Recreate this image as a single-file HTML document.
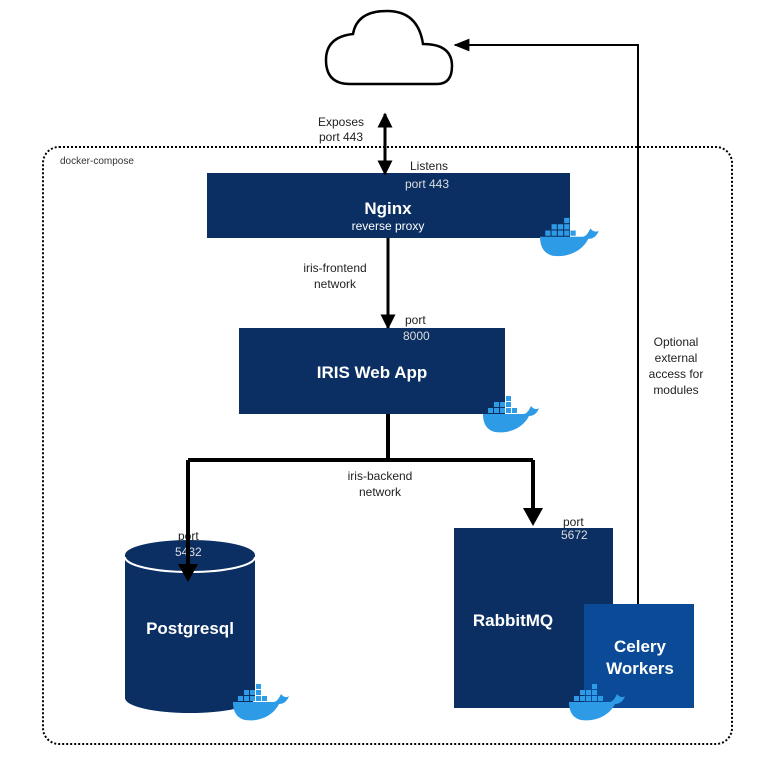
<!DOCTYPE html>
<html><head><meta charset="utf-8"><style>
body{margin:0;background:#fff;width:771px;height:779px;overflow:hidden}
text{font-family:"Liberation Sans",sans-serif}
</style></head><body>
<svg width="771" height="779" viewBox="0 0 771 779" xmlns="http://www.w3.org/2000/svg">
<defs>
<marker id="ah" viewBox="0 0 10 10" refX="9" refY="5" markerWidth="5" markerHeight="5" orient="auto-start-reverse"><path d="M0,0 L10,5 L0,10 z" fill="#000"/></marker>
<marker id="ah2" viewBox="0 0 10 10" refX="9" refY="5" markerWidth="8" markerHeight="8" orient="auto"><path d="M0,1 L10,5 L0,9 z" fill="#000"/></marker>
<g id="whale">
<path d="M0,14 L40,14 C44,14 46,10 48,6 C50,9 54,10 56,8 C54,14 50,16 46,16 C40,28 26,34 12,32 C4,30 0,24 0,14 Z" fill="#2e9be6"/>
<g fill="#2e9be6"><rect x="5" y="8" width="5" height="5"/><rect x="11" y="8" width="5" height="5"/><rect x="17" y="8" width="5" height="5"/><rect x="23" y="8" width="5" height="5"/><rect x="29" y="8" width="5" height="5"/><rect x="11" y="2" width="5" height="5"/><rect x="17" y="2" width="5" height="5"/><rect x="23" y="2" width="5" height="5"/><rect x="23" y="-4" width="5" height="5"/></g>
</g>
</defs>
<path d="M350 84 L437 84 Q452 84 452 66 Q452 44 423 44 Q418 11 387 11 Q357 11 353 34 Q326 37 326 60 Q326 84 350 84 Z" fill="#fff" stroke="#000" stroke-width="2.5"/>
<rect x="43" y="147" width="689" height="597" rx="16" fill="none" stroke="#000" stroke-width="2" stroke-dasharray="2,2"/>
<text x="60" y="164" font-size="10" fill="#333">docker-compose</text>
<text x="341" y="126" font-size="12" text-anchor="middle" fill="#222">Exposes</text>
<text x="341" y="141" font-size="12" text-anchor="middle" fill="#222">port 443</text>
<rect x="207" y="173" width="363" height="65" fill="#0b2f63"/>
<text x="410" y="170" font-size="12" fill="#222">Listens</text>
<text x="405" y="188" font-size="12" fill="#ddd">port 443</text>
<text x="388" y="214" font-size="17" font-weight="bold" text-anchor="middle" fill="#fff">Nginx</text>
<text x="388" y="230" font-size="12" text-anchor="middle" fill="#fff">reverse proxy</text>
<line x1="385" y1="114" x2="385" y2="174" stroke="#000" stroke-width="3" marker-start="url(#ah)" marker-end="url(#ah)"/>
<use href="#whale" x="540" y="222" transform="translate(-27,-11) scale(1.05)"/>
<line x1="388" y1="238" x2="388" y2="328" stroke="#000" stroke-width="3" marker-end="url(#ah)"/>
<text x="335" y="272" font-size="12" text-anchor="middle" fill="#222">iris-frontend</text>
<text x="335" y="288" font-size="12" text-anchor="middle" fill="#222">network</text>
<rect x="239" y="328" width="266" height="86" fill="#0b2f63"/>
<text x="405" y="324" font-size="12" fill="#222">port</text>
<text x="403" y="340" font-size="12" fill="#ddd">8000</text>
<text x="372" y="378" font-size="17" font-weight="bold" text-anchor="middle" fill="#fff">IRIS Web App</text>
<use href="#whale" x="483" y="400"/>
<path d="M388 414 V460 M188 460 H533" stroke="#000" stroke-width="4" fill="none"/>
<text x="380" y="480" font-size="12" text-anchor="middle" fill="#222">iris-backend</text>
<text x="380" y="496" font-size="12" text-anchor="middle" fill="#222">network</text>
<path d="M125 555 V698 A65 15 0 0 0 255 698 V555 A65 15 0 0 0 125 555 Z" fill="#0b2f63"/>
<path d="M125 557 A65 15 0 0 0 255 557" fill="none" stroke="#fff" stroke-width="2"/>
<text x="178" y="540" font-size="12" fill="#222">port</text>
<text x="175" y="556" font-size="12" fill="#ddd">5432</text>
<text x="190" y="634" font-size="17" font-weight="bold" text-anchor="middle" fill="#fff">Postgresql</text>
<use href="#whale" x="233" y="688"/>
<path d="M188 460 V568" stroke="#000" stroke-width="4"/><path d="M178 564 L198 564 L188 582 Z"/>
<rect x="454" y="528" width="159" height="180" fill="#0b2f63"/>
<text x="563" y="526" font-size="12" fill="#222">port</text>
<text x="561" y="539" font-size="12" fill="#ddd">5672</text>
<text x="513" y="626" font-size="17" font-weight="bold" text-anchor="middle" fill="#fff">RabbitMQ</text>
<path d="M533 460 V512" stroke="#000" stroke-width="4"/><path d="M523 508 L543 508 L533 526 Z"/>
<path d="M638 604 V45 H455" stroke="#000" stroke-width="2" fill="none" marker-end="url(#ah2)"/>
<text x="676" y="346" font-size="12" text-anchor="middle" fill="#222">Optional</text>
<text x="676" y="362" font-size="12" text-anchor="middle" fill="#222">external</text>
<text x="676" y="378" font-size="12" text-anchor="middle" fill="#222">access for</text>
<text x="676" y="394" font-size="12" text-anchor="middle" fill="#222">modules</text>
<rect x="584" y="604" width="110" height="104" fill="#0a4a96"/>
<text x="640" y="652" font-size="17" font-weight="bold" text-anchor="middle" fill="#fff">Celery</text>
<text x="640" y="674" font-size="17" font-weight="bold" text-anchor="middle" fill="#fff">Workers</text>
<use href="#whale" x="569" y="688"/>
</svg>
</body></html>
